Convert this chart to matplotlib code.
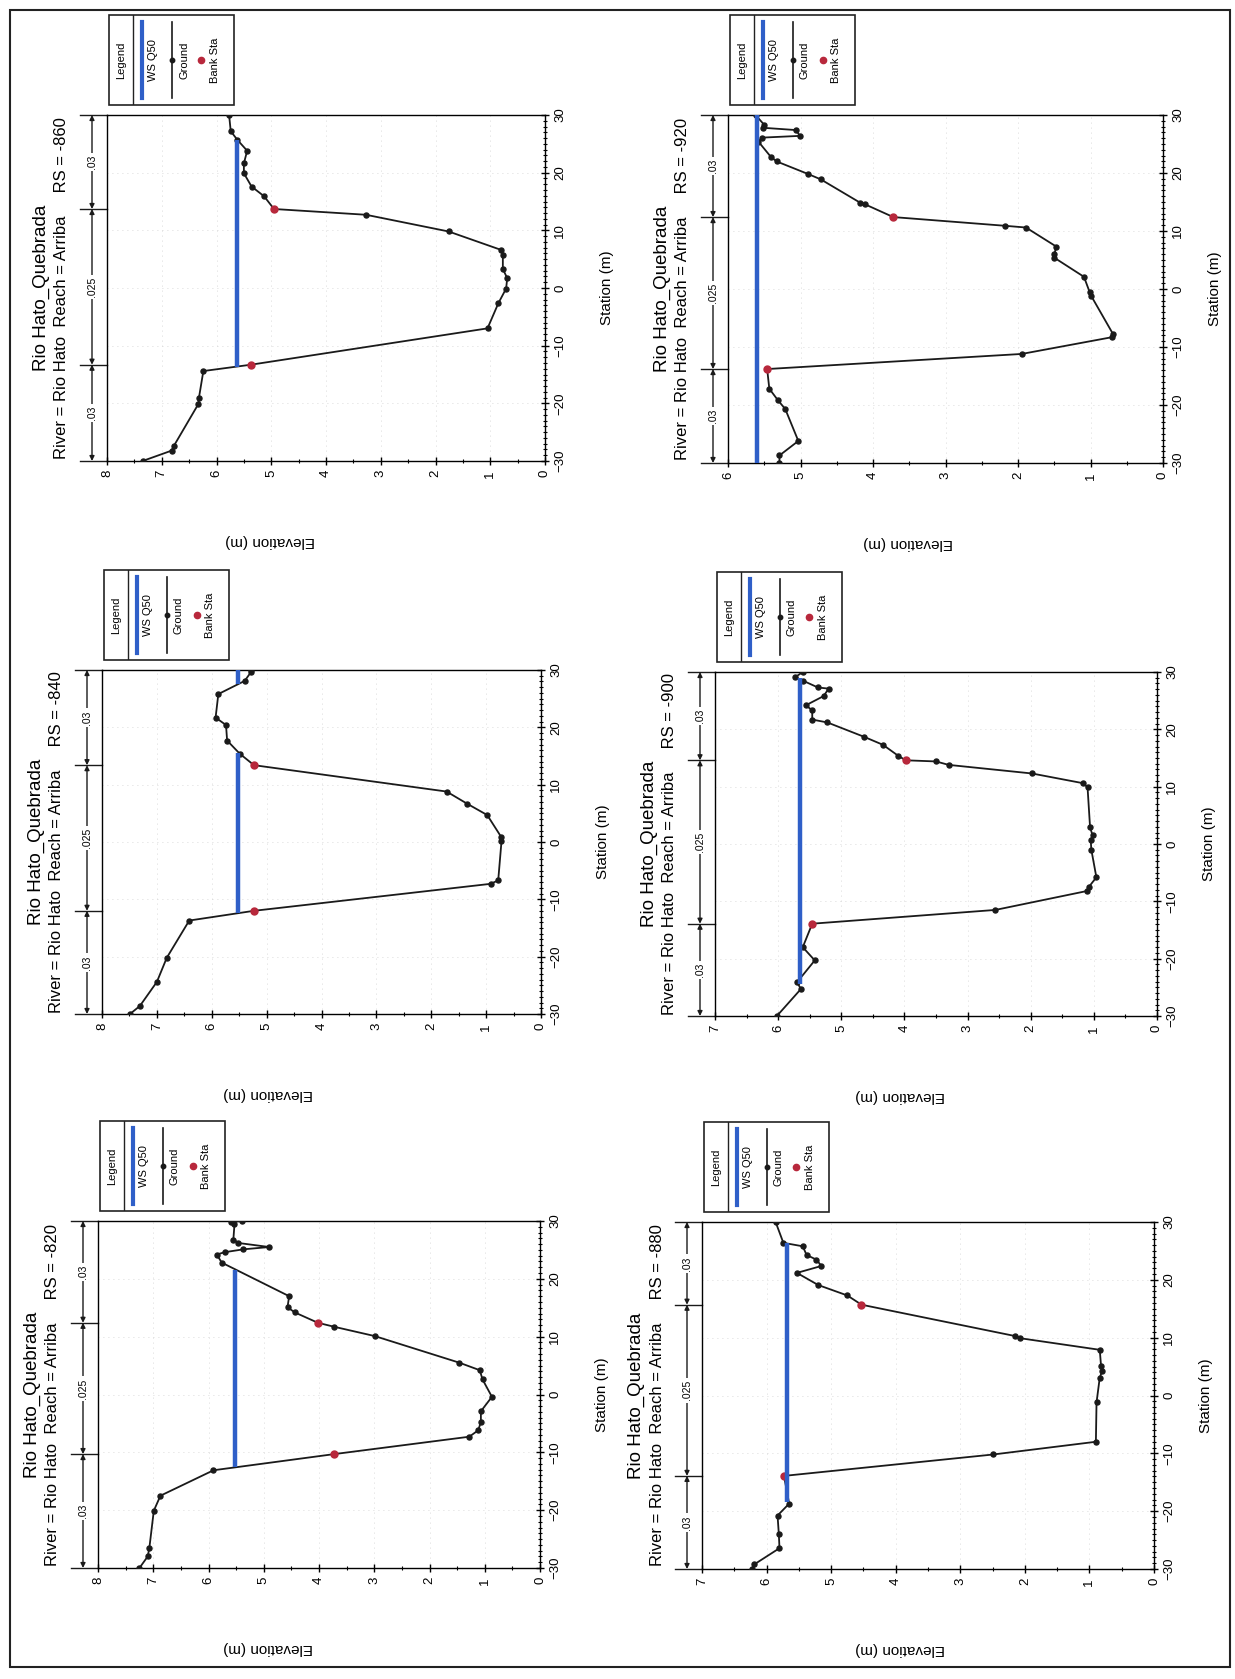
import matplotlib
matplotlib.use('Agg')
import matplotlib.pyplot as plt
import matplotlib.transforms as mtransforms
from matplotlib.patches import Rectangle
from matplotlib.ticker import MultipleLocator

plt.rcParams['font.family'] = ['Liberation Sans', 'DejaVu Sans']

# ---- datos de las secciones (estacion m, elevacion m) ----
sta_820 = [-30, -28, -26.5, -20.1, -17.5, -13.1, -10.3, -7.3, -6.2, -4.8, -2.9, -0.4, 2.6, 4.2, 5.5,
           10.1, 11.7, 12.4, 14.2, 15.1, 17.0, 22.8, 24.2, 24.6, 25.1, 25.5, 26.2, 26.8, 29.4, 29.8, 30]
elev_820 = [7.25, 7.10, 7.07, 6.99, 6.87, 5.91, 3.72, 1.28, 1.12, 1.07, 1.07, 0.87, 1.04, 1.09, 1.46,
            2.99, 3.72, 4.02, 4.44, 4.57, 4.54, 5.76, 5.85, 5.71, 5.37, 4.90, 5.46, 5.55, 5.53, 5.60, 5.40]
bank_sta_820 = [-10.3, 12.4]
bank_elev_820 = [3.72, 4.02]
ws_820 = 5.52
ws_from_820 = [-12.6]
ws_to_820 = [21.6]

sta_840 = [-30, -28.6, -24.4, -20.2, -13.7, -12.0, -7.3, -6.7, 0.1, 0.8, 4.7, 6.7, 8.8, 13.4, 15.4,
           17.7, 20.4, 21.7, 25.8, 28.1, 29.7, 30]
elev_840 = [7.49, 7.31, 7.00, 6.82, 6.41, 5.23, 0.92, 0.78, 0.72, 0.72, 0.98, 1.35, 1.72, 5.23, 5.49,
            5.72, 5.74, 5.93, 5.88, 5.40, 5.28, 5.28]
bank_sta_840 = [-12.0, 13.4]
bank_elev_840 = [5.23, 5.23]
ws_840 = 5.52
ws_from_840 = [-12.4, 27.6]
ws_to_840 = [15.5, 30]

sta_860 = [-30, -28.2, -27.4, -20.1, -19.0, -14.4, -13.3, -7.0, -2.6, -0.1, 1.7, 3.3, 5.8, 6.6, 9.8,
           12.7, 13.7, 15.9, 17.6, 19.9, 21.6, 23.8, 25.7, 27.2, 30]
elev_860 = [7.35, 6.82, 6.78, 6.33, 6.32, 6.24, 5.37, 1.05, 0.85, 0.71, 0.69, 0.77, 0.77, 0.80, 1.76,
            3.27, 4.95, 5.13, 5.36, 5.50, 5.50, 5.44, 5.62, 5.74, 5.77]
bank_sta_860 = [-13.3, 13.7]
bank_elev_860 = [5.37, 4.95]
ws_860 = 5.63
ws_from_860 = [-13.7]
ws_to_860 = [25.7]

sta_880 = [-30, -29.2, -26.4, -24.0, -20.75, -18.7, -13.9, -10.2, -8.0, -1.2, 3.1, 4.3, 5.1, 7.9, 9.9,
           10.3, 15.7, 17.3, 19.1, 21.2, 22.4, 23.5, 24.3, 25.8, 26.4, 30]
elev_880 = [6.22, 6.19, 5.80, 5.81, 5.83, 5.65, 5.73, 2.49, 0.90, 0.89, 0.84, 0.80, 0.82, 0.84, 2.07,
            2.16, 4.53, 4.75, 5.20, 5.53, 5.15, 5.23, 5.38, 5.44, 5.74, 5.86]
bank_sta_880 = [-13.9, 15.7]
bank_elev_880 = [5.73, 4.53]
ws_880 = 5.68
ws_from_880 = [-18.5]
ws_to_880 = [26.3]

sta_900 = [-30, -25.3, -24.1, -20.3, -18.0, -13.9, -11.5, -8.2, -7.5, -5.8, -1.0, 0.75, 1.5, 2.9, 9.9,
           10.6, 12.3, 13.8, 14.4, 14.6, 15.4, 17.3, 18.7, 21.2, 21.7, 23.3, 24.2, 25.8, 27.1, 27.3,
           28.5, 29.1, 30]
elev_900 = [6.02, 5.64, 5.70, 5.42, 5.61, 5.46, 2.56, 1.11, 1.08, 0.96, 1.04, 1.05, 1.02, 1.06, 1.10,
            1.17, 1.98, 3.30, 3.50, 3.98, 4.10, 4.34, 4.64, 5.22, 5.46, 5.46, 5.56, 5.28, 5.20, 5.37,
            5.61, 5.73, 5.61]
bank_sta_900 = [-13.9, 14.6]
bank_elev_900 = [5.46, 3.98]
ws_900 = 5.66
ws_from_900 = [-24.5]
ws_to_900 = [29.0]

sta_920 = [-30, -28.7, -26.2, -20.7, -19.2, -17.2, -13.8, -11.2, -8.3, -7.75, -1.2, -0.6, 2.1, 5.4, 6.0,
           7.3, 10.6, 10.9, 12.4, 14.6, 14.9, 18.9, 19.8, 22.0, 22.8, 25.4, 26.1, 26.4, 27.4, 27.8,
           28.3, 30]
elev_920 = [5.29, 5.29, 5.03, 5.21, 5.31, 5.43, 5.46, 1.95, 0.70, 0.69, 0.99, 1.01, 1.09, 1.50, 1.50,
            1.47, 1.89, 2.18, 3.72, 4.11, 4.18, 4.72, 4.89, 5.33, 5.41, 5.58, 5.53, 5.01, 5.06, 5.52,
            5.50, 5.62]
bank_sta_920 = [-13.8, 12.4]
bank_elev_920 = [5.46, 3.72]
ws_920 = 5.60
ws_from_920 = [-30]
ws_to_920 = [30]

n_values = ['.03', '.025', '.03']
rs_labels = ['-820', '-840', '-860', '-880', '-900', '-920']

BLUE = '#2f5fc8'
RED = '#b8283c'
W, H = 1235, 1679

fig = plt.figure(figsize=(W / 100, H / 100), dpi=100)

# borde de la pagina
fig.patches.append(Rectangle((10 / W, 1 - 1667 / H), 1220 / W, 1657 / H, transform=fig.transFigure,
                             fill=False, lw=1.5, ec='#222222'))


def draw_legend(x0, y0):
    lg = fig.add_axes([x0 / W, 1 - (y0 + 90) / H, 125 / W, 90 / H])
    lg.set_xlim(0, 1)
    lg.set_ylim(0, 1)
    lg.axis('off')
    lg.add_patch(Rectangle((0, 0), 1, 1, fill=False, lw=1.2, ec='#222222', clip_on=False))
    lg.plot([0.19, 0.19], [0, 1], color='#222222', lw=1.0)
    lg.text(0.095, 0.5, 'Legend', rotation=90, ha='center', va='center', fontsize=8)
    lg.plot([0.26, 0.26], [0.08, 0.92], color=BLUE, lw=3)
    lg.text(0.35, 0.5, 'WS Q50', rotation=90, ha='center', va='center', fontsize=8)
    lg.plot([0.50, 0.50], [0.08, 0.92], color='#1a1a1a', lw=1.2)
    lg.plot([0.50], [0.5], 'o', color='#1a1a1a', ms=3.2)
    lg.text(0.60, 0.5, 'Ground', rotation=90, ha='center', va='center', fontsize=8)
    lg.plot([0.74], [0.5], 'o', color=RED, ms=4.5)
    lg.text(0.85, 0.5, 'Bank Sta', rotation=90, ha='center', va='center', fontsize=8)


def draw_panel(box, rs, sta, elev, bank_sta, bank_elev, ws, ws_from, ws_to, emax, elab_x, slab_off):
    x0, y0, x1, y1 = box
    wpx = x1 - x0
    ax = fig.add_axes([x0 / W, 1 - y1 / H, wpx / W, (y1 - y0) / H])
    ax.plot(elev, sta, color='#1a1a1a', lw=1.3, marker='o', ms=3.6, zorder=3)
    ax.plot(bank_elev, bank_sta, 'o', color=RED, ms=5, zorder=4)
    for a, b in zip(ws_from, ws_to):
        ax.plot([ws, ws], [a, b], color=BLUE, lw=3.2, zorder=5, solid_capstyle='butt')
    ax.set_xlim(emax, 0)
    ax.set_ylim(-30, 30)
    ax.xaxis.set_major_locator(MultipleLocator(1))
    ax.xaxis.set_minor_locator(MultipleLocator(0.5))
    ax.yaxis.set_major_locator(MultipleLocator(10))
    ax.yaxis.set_minor_locator(MultipleLocator(1))
    ax.yaxis.tick_right()
    ax.tick_params(which='major', labelsize=9.5, labelrotation=90, direction='inout', length=6, width=1)
    ax.tick_params(which='minor', direction='inout', length=3, width=0.8)
    for lab in ax.get_yticklabels():
        lab.set_va('center')
    ax.grid(True, which='major', color='#cfcfcf', lw=0.6, ls=(0, (1, 5)))
    for s in ax.spines.values():
        s.set_linewidth(1.0)

    # valores de n de Manning
    trans = mtransforms.blended_transform_factory(ax.transAxes, ax.transData)
    xn = -15 / wpx
    bounds = [-30, bank_sta[0], bank_sta[1], 30]
    for b in bounds:
        ax.plot([-27 / wpx, 0], [b, b], transform=trans, color='#1a1a1a', lw=1, clip_on=False)
    for a, b, n in zip(bounds[:-1], bounds[1:], n_values):
        ax.annotate('', xy=(xn, b), xytext=(xn, a), xycoords=trans, textcoords=trans,
                    arrowprops=dict(arrowstyle='<|-|>', color='#1a1a1a', lw=1, mutation_scale=7,
                                    shrinkA=0, shrinkB=0), annotation_clip=False)
        ax.text(xn, (a + b) / 2, n, transform=trans, rotation=90, ha='center', va='center', fontsize=7.5,
                bbox=dict(fc='white', ec='none', pad=1.5))

    ax.text(-66 / wpx, 0.5, 'Rio Hato_Quebrada', transform=ax.transAxes, rotation=90,
            ha='center', va='center', fontsize=13.5)
    ax.text(-45 / wpx, 0.5, 'River = Rio Hato  Reach = Arriba     RS = ' + rs, transform=ax.transAxes,
            rotation=90, ha='center', va='center', fontsize=12)
    ax.text(1 + slab_off / wpx, 0.5, 'Station (m)', transform=ax.transAxes, rotation=90,
            ha='center', va='center', fontsize=11)
    fig.text(elab_x / W, 1 - (y1 + 80) / H, 'Elevation (m)', rotation=180, ha='center', va='center',
             fontsize=11)
    draw_legend(x0 + 2, y0 - 100)


draw_panel((98, 1221, 540, 1568), rs_labels[0], sta_820, elev_820, bank_sta_820, bank_elev_820,
           ws_820, ws_from_820, ws_to_820, 8, 268, 62)
draw_panel((102, 670, 541, 1014), rs_labels[1], sta_840, elev_840, bank_sta_840, bank_elev_840,
           ws_840, ws_from_840, ws_to_840, 8, 268, 62)
draw_panel((107, 115, 545, 461), rs_labels[2], sta_860, elev_860, bank_sta_860, bank_elev_860,
           ws_860, ws_from_860, ws_to_860, 8, 270, 62)
draw_panel((702, 1222, 1154, 1569), rs_labels[3], sta_880, elev_880, bank_sta_880, bank_elev_880,
           ws_880, ws_from_880, ws_to_880, 7, 900, 52)
draw_panel((715, 672, 1157, 1016), rs_labels[4], sta_900, elev_900, bank_sta_900, bank_elev_900,
           ws_900, ws_from_900, ws_to_900, 7, 900, 52)
draw_panel((728, 115, 1163, 463), rs_labels[5], sta_920, elev_920, bank_sta_920, bank_elev_920,
           ws_920, ws_from_920, ws_to_920, 6, 908, 52)

fig.savefig('out.png', dpi=100, facecolor='white')
